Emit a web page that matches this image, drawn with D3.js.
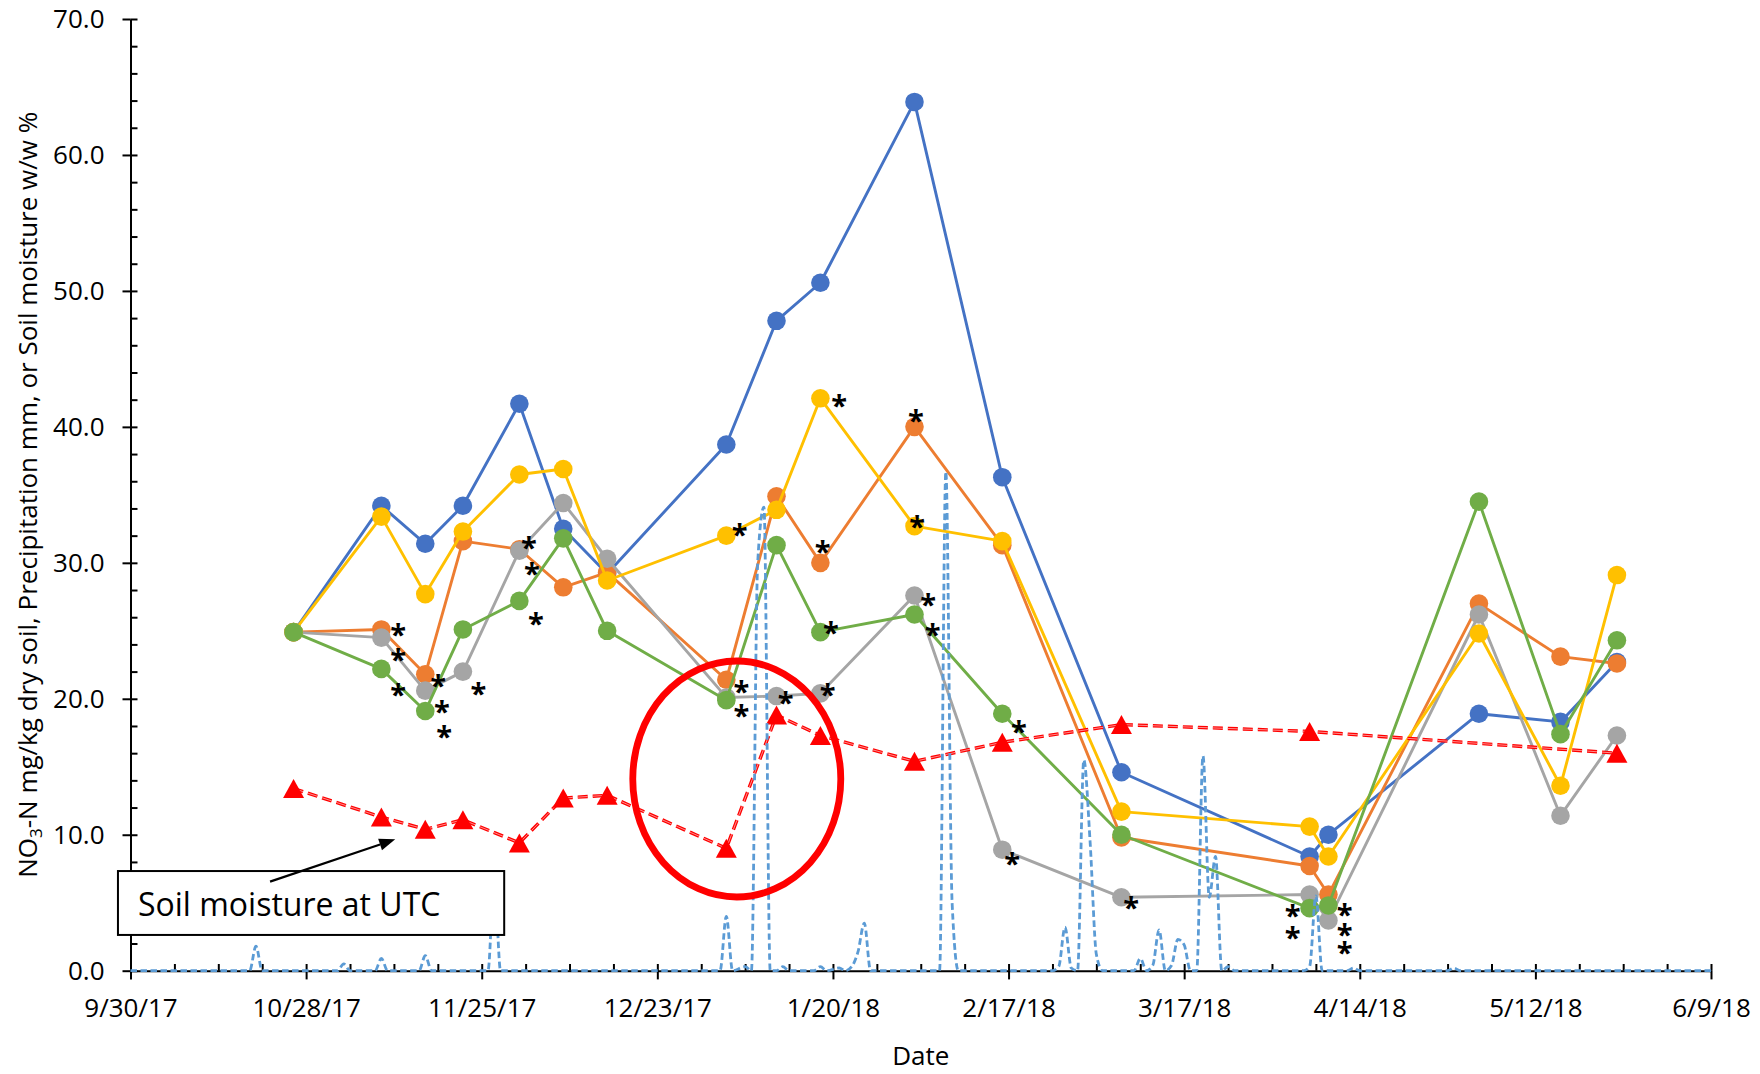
<!DOCTYPE html>
<html>
<head>
<meta charset="utf-8">
<script src="https://cdn.jsdelivr.net/npm/d3@7"></script>
<style>
  html, body { margin: 0; padding: 0; background: #fff; }
  svg { display: block; font-family: "Open Sans", "Noto Sans", sans-serif; }
</style>
</head>
<body>
<svg id="chart" width="1760" height="1074"></svg>
<script>
// ---- Sampling dates of the NO3-N series ----
const sampleDates = ["2017-10-26","2017-11-09","2017-11-16","2017-11-22","2017-12-01","2017-12-08",
  "2017-12-15","2018-01-03","2018-01-11","2018-01-18","2018-02-02","2018-02-16","2018-03-07",
  "2018-04-06","2018-04-09","2018-05-03","2018-05-16","2018-05-25"];

// NO3-N mg/kg dry soil, five treatments
const no3Blue   = [24.9, 34.2, 31.4, 34.2, 41.7, 32.5, 29.2, 38.7, 47.8, 50.6, 63.9, 36.3, 14.6, 8.4, 10.0, 18.9, 18.3, 22.7];
const no3Orange = [24.9, 25.1, 21.8, 31.6, 31.0, 28.2, 29.3, 21.4, 34.9, 30.0, 40.0, 31.3, 9.8, 7.7, 5.6, 27.0, 23.1, 22.6];
const no3Gray   = [24.9, 24.5, 20.6, 22.0, 30.9, 34.4, 30.3, 20.1, 20.2, 20.4, 27.6, 8.9, 5.4, 5.6, 3.7, 26.2, 11.4, 17.3];
const no3Yellow = [24.9, 33.4, 27.7, 32.3, 36.5, 36.9, 28.7, 32.0, 33.9, 42.1, 32.7, 31.6, 11.7, 10.6, 8.4, 24.8, 13.6, 29.1];
const no3Green  = [24.9, 22.2, 19.1, 25.1, 27.2, 31.8, 25.0, 19.9, 31.3, 24.9, 26.2, 18.9, 10.0, 4.6, 4.8, 34.5, 17.4, 24.3];

// Soil moisture at UTC (w/w %)
const moistureDates = ["2017-10-26","2017-11-09","2017-11-16","2017-11-22","2017-12-01","2017-12-08",
  "2017-12-15","2018-01-03","2018-01-11","2018-01-18","2018-02-02","2018-02-16","2018-03-07",
  "2018-04-06","2018-05-25"];
const moistureValues = [13.4, 11.3, 10.4, 11.1, 9.4, 12.7, 12.9, 9.0, 18.8, 17.3, 15.4, 16.8, 18.1, 17.6, 16.0];

// Daily precipitation (mm); dry days between events are 0
const precipDates = ["2017-09-30","2017-10-19","2017-10-20","2017-10-21","2017-11-02","2017-11-03","2017-11-04",
  "2017-11-08","2017-11-09","2017-11-10","2017-11-15","2017-11-16","2017-11-17","2017-11-26","2017-11-27","2017-11-28",
  "2018-01-02","2018-01-03","2018-01-04","2018-01-06","2018-01-07","2018-01-08","2018-01-09","2018-01-10",
  "2018-01-11","2018-01-12","2018-01-13","2018-01-17","2018-01-18","2018-01-19","2018-01-21","2018-01-22",
  "2018-01-23","2018-01-24","2018-01-25","2018-01-26","2018-02-06","2018-02-07","2018-02-08","2018-02-09",
  "2018-02-24","2018-02-25","2018-02-26","2018-02-27","2018-02-28","2018-03-01","2018-03-02","2018-03-03","2018-03-04",
  "2018-03-09","2018-03-10","2018-03-11","2018-03-12","2018-03-13","2018-03-14","2018-03-15","2018-03-16","2018-03-17",
  "2018-03-18","2018-03-19","2018-03-20","2018-03-21","2018-03-22","2018-03-23","2018-03-24","2018-03-25",
  "2018-04-05","2018-04-06","2018-04-07","2018-04-08","2018-04-12","2018-04-13","2018-04-14",
  "2018-04-28","2018-04-29","2018-04-30","2018-06-09"];
const precipValues = [0, 0, 1.8, 0, 0, 0.5, 0,
  0, 0.9, 0, 0, 1.1, 0, 0, 7.0, 0,
  0, 4.0, 0, 0.3, 0, 30.0, 34.1, 0,
  0, 0.3, 0, 0, 0.3, 0, 0.2, 0,
  0.3, 1.4, 3.5, 0, 0, 36.7, 5.0, 0,
  0, 0.3, 3.2, 0.2, 0, 15.5, 9.5, 1.2, 0,
  0, 0.9, 0, 0.4, 3.0, 0, 0.4, 2.3, 1.9,
  0, 0, 15.8, 5.4, 8.4, 0, 0.3, 0,
  0, 0.3, 5.5, 0, 0, 0.2, 0,
  0, 0.2, 0, 0];

// Axis ticks
const xMajorTicks = ["2017-09-30","2017-10-28","2017-11-25","2017-12-23","2018-01-20","2018-02-17",
  "2018-03-17","2018-04-14","2018-05-12","2018-06-09"];
const yMajorTicks = [0, 10, 20, 30, 40, 50, 60, 70];

// Significance marks (*), placed in data coordinates
const starDates = ["2017-11-11T16:00","2017-11-11T16:00","2017-11-11T16:00","2017-11-18T01:00","2017-11-18T16:00",
  "2017-11-19T00:00","2017-11-24T11:00","2017-12-02T13:00","2017-12-03T00:00","2017-12-03T15:00",
  "2018-01-05T03:00","2018-01-05T10:00","2018-01-05T10:00","2018-01-12T11:00","2018-01-21T00:00",
  "2018-01-18T09:00","2018-01-19T16:00","2018-01-19T04:00","2018-02-02T05:00","2018-02-02T10:00",
  "2018-02-04T04:00","2018-02-04T22:00","2018-02-18T16:00","2018-02-17T14:00","2018-03-08T13:00",
  "2018-04-03T07:00","2018-04-03T07:00","2018-04-11T14:00","2018-04-11T14:00","2018-04-11T14:00"];
const starValues = [25.1, 23.3, 20.7, 21.4, 19.5, 17.6, 20.8, 31.5, 29.6, 25.95,
  32.5, 20.9, 19.2, 20.1, 42.0, 31.25, 25.25, 20.7, 40.9, 33.1,
  27.3, 25.15, 18.0, 8.25, 5.05, 4.45, 2.85, 4.5, 3.1, 1.75];

// ---- Layout ----
const W = 1760, H = 1074;
const plot = { left: 130.5, right: 1711, top: 19, bottom: 970.7 };
const FONT = 26;

const parseDay = d3.utcParse("%Y-%m-%d");
const parseTime = d3.utcParse("%Y-%m-%dT%H:%M");
const startDate = parseDay(xMajorTicks[0]);
const endDate = parseDay(xMajorTicks[xMajorTicks.length - 1]);

const x = d3.scaleUtc().domain([startDate, endDate]).range([plot.left, plot.right]);
const y = d3.scaleLinear().domain([0, 70]).range([plot.bottom, plot.top]);

const svg = d3.select("#chart");
svg.append("rect").attr("width", W).attr("height", H).attr("fill", "#fff");

// ---- Axes ----
const minorX = d3.range(0, 253, 7).map(d => d3.utcDay.offset(startDate, d));
const minorY = d3.range(0, 71, 2);

function styleAxis(g) {
  g.selectAll("path.domain").attr("stroke", "#000").attr("stroke-width", 2);
  g.selectAll(".tick line").attr("stroke", "#000").attr("stroke-width", 2);
  g.selectAll(".tick text").attr("fill", "#000").style("font-size", FONT + "px")
    .style("font-family", '"Open Sans", sans-serif');
}

// minor ticks point into the plot
svg.append("g").attr("transform", `translate(${plot.left},0)`)
  .call(d3.axisRight(y).tickValues(minorY).tickSize(7).tickFormat(""))
  .call(g => g.select(".domain").remove()).call(styleAxis);
svg.append("g").attr("transform", `translate(0,${plot.bottom})`)
  .call(d3.axisTop(x).tickValues(minorX).tickSize(6.7).tickFormat(""))
  .call(g => g.select(".domain").remove()).call(styleAxis);

// major ticks point outward
svg.append("g").attr("transform", `translate(${plot.left},0)`)
  .call(d3.axisLeft(y).tickValues(yMajorTicks).tickFormat(d3.format(".1f"))
    .tickSize(8).tickSizeOuter(0).tickPadding(18))
  .call(styleAxis);
svg.append("g").attr("transform", `translate(0,${plot.bottom})`)
  .call(d3.axisBottom(x).tickValues(xMajorTicks.map(parseDay)).tickFormat(d3.utcFormat("%-m/%-d/%y"))
    .tickSize(8.7).tickSizeOuter(0).tickPadding(19.5))
  .call(styleAxis);

// axis titles
svg.append("text").attr("x", (plot.left + plot.right) / 2).attr("y", 1065)
  .attr("text-anchor", "middle").style("font-size", FONT + "px").attr("fill", "#000").text("Date");

const yTitle = svg.append("text")
  .attr("transform", `translate(28,${(plot.top + plot.bottom) / 2}) rotate(-90)`)
  .attr("text-anchor", "middle").attr("dy", "0.35em")
  .style("font-size", FONT + "px").attr("fill", "#000");
yTitle.append("tspan").text("NO");
yTitle.append("tspan").attr("dy", "0.3em").style("font-size", "17px").text("3");
yTitle.append("tspan").attr("dy", "-0.2em").text("-N mg/kg dry soil, Precipitation mm, or Soil moisture w/w %");

// ---- NO3-N series ----
const seriesList = [
  { values: no3Blue,   color: "#4472C4" },
  { values: no3Orange, color: "#ED7D31" },
  { values: no3Gray,   color: "#A5A5A5" },
  { values: no3Yellow, color: "#FFC000" },
  { values: no3Green,  color: "#70AD47" }
];
const lineGen = d3.line().x(d => x(d.date)).y(d => y(d.value));

seriesList.forEach(s => {
  const pts = sampleDates.map((d, i) => ({ date: parseDay(d), value: s.values[i] }));
  const g = svg.append("g");
  g.append("path").datum(pts).attr("d", lineGen)
    .attr("fill", "none").attr("stroke", s.color).attr("stroke-width", 2.9).attr("stroke-linejoin", "round");
  g.selectAll("circle").data(pts).join("circle")
    .attr("cx", d => x(d.date)).attr("cy", d => y(d.value)).attr("r", 9.3).attr("fill", s.color);
});

// ---- Soil moisture (dashed red, triangles) ----
const moisture = moistureDates.map((d, i) => ({ date: parseDay(d), value: moistureValues[i] }));
const mg = svg.append("g");
mg.append("path").datum(moisture).attr("d", lineGen)
  .attr("fill", "none").attr("stroke", "#FF0000").attr("stroke-width", 3.4).attr("stroke-dasharray", "10,5");
mg.append("path").datum(moisture).attr("d", lineGen)
  .attr("fill", "none").attr("stroke", "#FF9C9C").attr("stroke-width", 0.9).attr("stroke-dasharray", "10,5");
const triW = 21, triH = 19;
mg.selectAll("path.tri").data(moisture).join("path").attr("class", "tri")
  .attr("d", d => {
    const cx = x(d.date), cy = y(d.value);
    return `M${cx},${cy - triH / 2}L${cx + triW / 2},${cy + triH / 2}L${cx - triW / 2},${cy + triH / 2}Z`;
  })
  .attr("fill", "#FF0000");

// ---- Precipitation (dashed light blue) ----
const precip = precipDates.map((d, i) => ({ date: parseDay(d), value: precipValues[i] }));
svg.append("path").datum(precip)
  .attr("d", d3.line().x(d => x(d.date)).y(d => y(d.value)).curve(d3.curveMonotoneX))
  .attr("fill", "none").attr("stroke", "#5B9BD5").attr("stroke-width", 2.8).attr("stroke-dasharray", "6.5,3.5");

// ---- Significance asterisks ----
const starFont = 29;
svg.append("g").selectAll("text").data(starDates.map((d, i) => ({ date: parseTime(d), value: starValues[i] })))
  .join("text")
  .attr("x", d => x(d.date)).attr("y", d => y(d.value) + starFont * 0.55)
  .attr("text-anchor", "middle").style("font-size", starFont + "px").style("font-weight", 700)
  .attr("fill", "#000").text("*");

// ---- Highlight ellipse around the moisture jump ----
const ringCenter = parseTime("2018-01-04T16:00");
const ringCx = x(ringCenter);
svg.append("ellipse")
  .attr("cx", ringCx).attr("cy", y(14.1))
  .attr("rx", x(d3.utcHour.offset(ringCenter, 398)) - ringCx)
  .attr("ry", y(0) - y(8.68))
  .attr("fill", "none").attr("stroke", "#FF0000").attr("stroke-width", 6.8);

// ---- Callout box with arrow ----
const boxX0 = x(parseDay("2017-09-28")), boxX1 = x(parseTime("2017-11-28T14:00"));
const boxY0 = y(7.33), boxY1 = y(2.63);
svg.append("rect").attr("x", boxX0).attr("y", boxY0).attr("width", boxX1 - boxX0).attr("height", boxY1 - boxY0)
  .attr("fill", "#fff").attr("stroke", "#000").attr("stroke-width", 2);
svg.append("text").attr("x", boxX0 + 20).attr("y", boxY0 + 45)
  .style("font-size", "32px").attr("fill", "#000").text("Soil moisture at UTC");

const tail = [x(parseTime("2017-10-22T06:00")), y(6.55)];
const tip = [x(parseTime("2017-11-11T05:00")), y(9.66)];
const ang = Math.atan2(tip[1] - tail[1], tip[0] - tail[0]);
const headL = 16, headW = 6;
const base = [tip[0] - headL * Math.cos(ang), tip[1] - headL * Math.sin(ang)];
svg.append("line").attr("x1", tail[0]).attr("y1", tail[1]).attr("x2", base[0]).attr("y2", base[1])
  .attr("stroke", "#000").attr("stroke-width", 2.2);
svg.append("path")
  .attr("d", `M${tip[0]},${tip[1]}L${base[0] + headW * Math.sin(ang)},${base[1] - headW * Math.cos(ang)}` +
             `L${base[0] - headW * Math.sin(ang)},${base[1] + headW * Math.cos(ang)}Z`)
  .attr("fill", "#000");
</script>
</body>
</html>
